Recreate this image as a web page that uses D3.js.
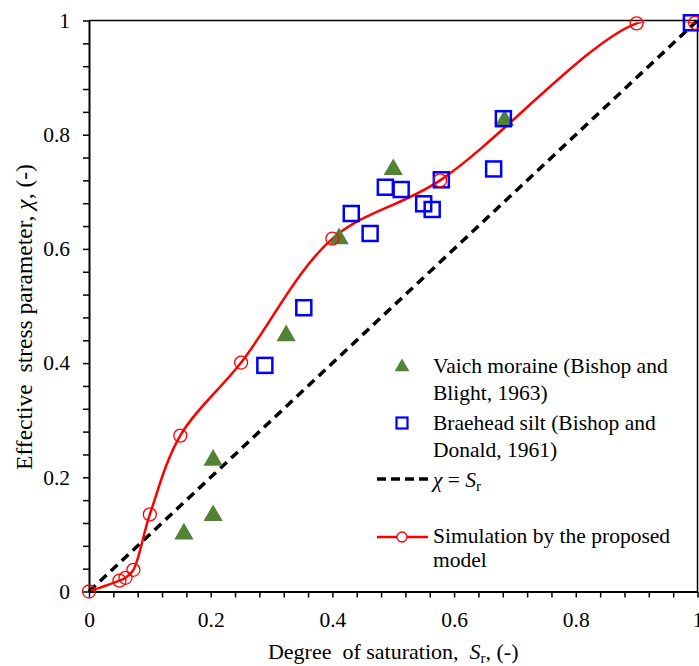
<!DOCTYPE html>
<html>
<head>
<meta charset="utf-8">
<script src="https://cdn.jsdelivr.net/npm/d3@7"></script>
<style>
  html, body { margin: 0; padding: 0; background: #fff; }
  svg { display: block; }
  text { font-family: "Liberation Serif", "Times New Roman", serif; fill: #000; white-space: pre; }
</style>
</head>
<body>
<svg id="chart" width="699" height="666"></svg>
<script>
// ---- Data ----
const vaichX = [0.156, 0.204, 0.204, 0.324, 0.411, 0.500, 0.683];
const vaichY = [0.101, 0.133, 0.230, 0.448, 0.618, 0.739, 0.825];

const braeheadX = [0.289, 0.353, 0.431, 0.462, 0.487, 0.513, 0.550, 0.564, 0.579, 0.665, 0.681, 0.990];
const braeheadY = [0.396, 0.497, 0.662, 0.627, 0.708, 0.704, 0.679, 0.669, 0.721, 0.740, 0.828, 0.996];

const simX = [0, 0.05, 0.06, 0.073, 0.10, 0.15, 0.25, 0.40, 0.577, 0.90, 0.996];
const simY = [0, 0.019, 0.024, 0.038, 0.135, 0.273, 0.401, 0.618, 0.720, 0.995, 0.996];

const lineX = [0, 1];   // chi = Sr
const lineY = [0, 1];

const xTicks = d3.range(0, 1.0001, 0.04);
const yTicks = d3.range(0, 1.0001, 0.04);
const labelTicks = [0, 0.2, 0.4, 0.6, 0.8, 1];

// ---- Layout ----
const svg = d3.select("#chart");
const x = d3.scaleLinear().domain([0, 1]).range([89, 697.5]);
const y = d3.scaleLinear().domain([0, 1]).range([591.5, 20.5]);
const FONT = 21.5;
const GREEN = "#548235", BLUE = "#0000ff", RED = "#ff0000";

const isMajor = v => labelTicks.some(t => Math.abs(t - v) < 1e-6);
const fmt = v => (Math.abs(v) < 1e-6 ? "0" : Math.abs(v - 1) < 1e-6 ? "1" : v.toFixed(1));

svg.append("defs").append("clipPath").attr("id", "plotclip").append("rect")
  .attr("x", x(0)).attr("y", y(1) + 1.8).attr("width", x(1) - x(0)).attr("height", y(0) - y(1) - 1.8);

// chi = Sr dashed line
svg.append("line")
  .attr("x1", x(lineX[0])).attr("y1", y(lineY[0]))
  .attr("x2", x(lineX[1])).attr("y2", y(lineY[1]))
  .attr("stroke", "#000").attr("stroke-width", 3.5).attr("stroke-dasharray", "9,6");

// simulation curve
const simData = simX.map((v, i) => [v, simY[i]]);
svg.append("path").datum(simData)
  .attr("clip-path", "url(#plotclip)")
  .attr("d", d3.line().x(d => x(d[0])).y(d => y(d[1])).curve(d3.curveCatmullRom.alpha(0.5)))
  .attr("fill", "none").attr("stroke", RED).attr("stroke-width", 2.5);

// frame top & right
svg.append("line").attr("x1", x(0)).attr("x2", x(1)).attr("y1", y(1)).attr("y2", y(1))
  .attr("stroke", "#000").attr("stroke-width", 1.5);
svg.append("line").attr("x1", x(1)).attr("x2", x(1)).attr("y1", y(1)).attr("y2", y(0))
  .attr("stroke", "#000").attr("stroke-width", 1.5);

// axes
const xAxis = d3.axisBottom(x).tickValues(xTicks).tickSizeInner(6).tickSizeOuter(0)
  .tickPadding(14).tickFormat(v => isMajor(v) ? fmt(v) : "");
const gx = svg.append("g").attr("transform", `translate(0,${y(0)})`).call(xAxis);
const yAxis = d3.axisLeft(y).tickValues(yTicks).tickSizeInner(6).tickSizeOuter(0)
  .tickPadding(13).tickFormat(v => isMajor(v) ? fmt(v) : "");
const gy = svg.append("g").attr("transform", `translate(${x(0)},0)`).call(yAxis);
[gx, gy].forEach(g => {
  g.select(".domain").attr("stroke", "#000").attr("stroke-width", 2);
  g.selectAll(".tick line").attr("stroke", "#000").attr("stroke-width", 1.5);
  g.selectAll(".tick text").attr("font-size", FONT).attr("font-family", "Liberation Serif");
});

// triangles
const triSym = d3.symbol().type(d3.symbolTriangle).size(160);
svg.append("g").selectAll("path").data(vaichX.map((v, i) => [v, vaichY[i]])).join("path")
  .attr("d", triSym).attr("transform", d => `translate(${x(d[0])},${y(d[1])})`)
  .attr("fill", GREEN);

// squares
const SQ = 15;
svg.append("g").selectAll("rect").data(braeheadX.map((v, i) => [v, braeheadY[i]])).join("rect")
  .attr("x", d => x(d[0]) - SQ / 2).attr("y", d => y(d[1]) - SQ / 2)
  .attr("width", SQ).attr("height", SQ)
  .attr("fill", "none").attr("stroke", BLUE).attr("stroke-width", 2.5);

// sim circles
svg.append("g").selectAll("circle").data(simData).join("circle")
  .attr("cx", d => x(d[0])).attr("cy", d => y(d[1])).attr("r", 6.5)
  .attr("fill", "none").attr("stroke", RED).attr("stroke-width", 1.3);

// ---- Legend ----
const lg = svg.append("g");
const tx = 433;
lg.append("path").attr("d", d3.symbol().type(d3.symbolTriangle).size(95))
  .attr("transform", "translate(402,367)").attr("fill", GREEN);
lg.append("text").attr("x", tx).attr("y", 373).attr("font-size", FONT).text("Vaich moraine (Bishop and");
lg.append("text").attr("x", tx).attr("y", 400).attr("font-size", FONT).text("Blight, 1963)");

lg.append("rect").attr("x", 396.5).attr("y", 417.5).attr("width", 11).attr("height", 11)
  .attr("fill", "none").attr("stroke", BLUE).attr("stroke-width", 2.2);
lg.append("text").attr("x", tx).attr("y", 430).attr("font-size", FONT).text("Braehead silt (Bishop and");
lg.append("text").attr("x", tx).attr("y", 457).attr("font-size", FONT).text("Donald, 1961)");

lg.append("line").attr("x1", 377).attr("x2", 428).attr("y1", 479).attr("y2", 479)
  .attr("stroke", "#000").attr("stroke-width", 3.5).attr("stroke-dasharray", "9,5");
const t3 = lg.append("text").attr("x", tx).attr("y", 487).attr("font-size", FONT);
t3.append("tspan").attr("font-style", "italic").text("χ");
t3.append("tspan").text(" = ");
t3.append("tspan").attr("font-style", "italic").text("S");
t3.append("tspan").attr("font-size", 15).attr("dy", 4).text("r");

lg.append("line").attr("x1", 377).attr("x2", 428).attr("y1", 537).attr("y2", 537)
  .attr("stroke", RED).attr("stroke-width", 2.5);
lg.append("circle").attr("cx", 402).attr("cy", 537).attr("r", 5)
  .attr("fill", "#fff").attr("stroke", RED).attr("stroke-width", 1.3);
lg.append("text").attr("x", tx).attr("y", 543).attr("font-size", FONT).text("Simulation by the proposed");
lg.append("text").attr("x", tx).attr("y", 567).attr("font-size", FONT).text("model");

// ---- Axis titles ----
const xt = svg.append("text").attr("x", (x(0) + x(1)) / 2).attr("y", 659)
  .attr("text-anchor", "middle").attr("font-size", 22);
xt.append("tspan").text("Degree  of saturation,  ");
xt.append("tspan").attr("font-style", "italic").text("S");
xt.append("tspan").attr("font-size", 15).attr("dy", 4).text("r");
xt.append("tspan").attr("dy", -4).text(", (-)");

const yt = svg.append("text").attr("transform", "translate(32,317) rotate(-90)")
  .attr("text-anchor", "middle").attr("font-size", 23.5);
yt.append("tspan").text("Effective  stress parameter, ");
yt.append("tspan").attr("font-style", "italic").text("χ");
yt.append("tspan").text(", (-)");
</script>
</body>
</html>
